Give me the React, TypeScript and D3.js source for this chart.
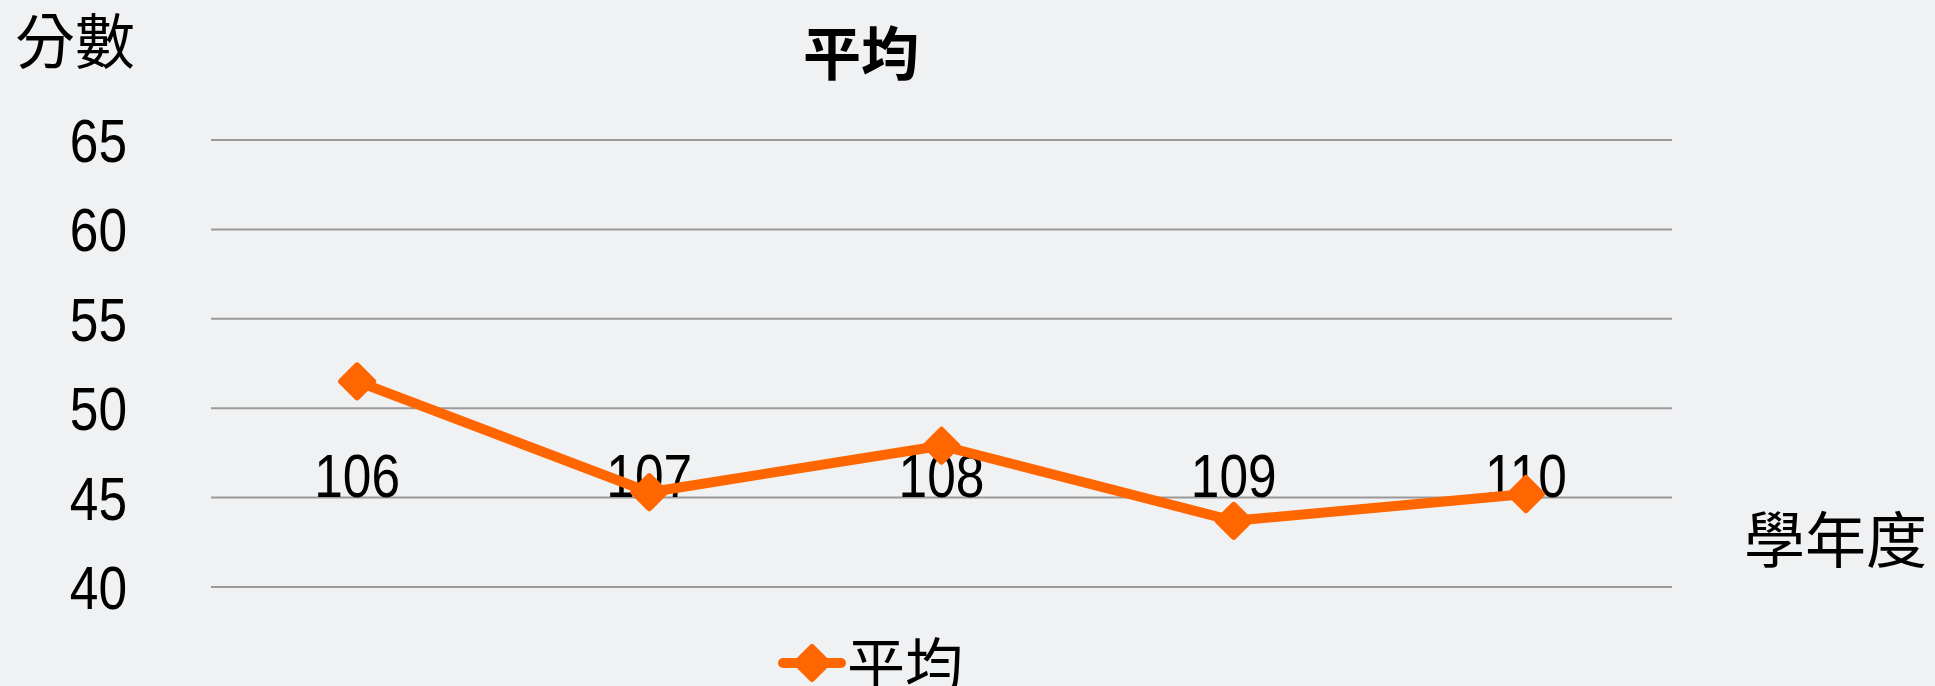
import React, { useRef, useEffect } from "react";
import * as d3 from "d3";

const years = ["106", "107", "108", "109", "110"];
const averages = [51.5, 45.3, 47.9, 43.7, 45.2];
const yTicks = [40, 45, 50, 55, 60, 65];
const seriesName = "平均";
const yTitle = "分數";
const xTitle = "學年度";

const W = 1935;
const H = 686;
const ORANGE = "#ff6600";
const NUM_FONT = "'Liberation Sans', sans-serif";
const CJK_FONT = "'Noto Sans CJK TC', 'Noto Sans CJK SC', sans-serif";
const NARROW = 0.83; // digits in the reference are condensed

const App: React.FC = () => {
  const svgRef = useRef<SVGSVGElement>(null);

  useEffect(() => {
    if (!svgRef.current) return;
    const svg = d3.select(svgRef.current);
    svg.selectAll("*").remove();

    svg.append("rect").attr("width", W).attr("height", H).attr("fill", "#f0f1f3");

    const x = d3.scaleBand<string>().domain(years).range([211, 1672]).padding(0);
    const y = d3.scaleLinear().domain([40, 65]).range([587, 140]);
    const cx = (d: string) => (x(d) ?? 0) + x.bandwidth() / 2;

    // gridlines
    svg
      .append("g")
      .selectAll("line")
      .data(yTicks)
      .join("line")
      .attr("x1", 211)
      .attr("x2", 1672)
      .attr("y1", (d) => y(d))
      .attr("y2", (d) => y(d))
      .attr("stroke", "#9a9a9a")
      .attr("stroke-width", 2);

    // y tick labels
    svg
      .append("g")
      .selectAll("text")
      .data(yTicks)
      .join("text")
      .attr("transform", (d) => `translate(127,${y(d) + 22}) scale(${NARROW},1)`)
      .attr("text-anchor", "end")
      .attr("font-family", NUM_FONT)
      .attr("font-size", 62)
      .attr("fill", "#000")
      .text((d) => d);

    // category labels (axis crosses at 45)
    svg
      .append("g")
      .selectAll("text")
      .data(years)
      .join("text")
      .attr("transform", (d) => `translate(${cx(d)},${y(45) - 1}) scale(${NARROW},1)`)
      .attr("text-anchor", "middle")
      .attr("font-family", NUM_FONT)
      .attr("font-size", 62)
      .attr("fill", "#000")
      .text((d) => d);

    const pts = years.map((d, i) => [cx(d), y(averages[i])] as [number, number]);

    svg
      .append("path")
      .datum(pts)
      .attr("fill", "none")
      .attr("stroke", ORANGE)
      .attr("stroke-width", 10)
      .attr("stroke-linejoin", "round")
      .attr("d", d3.line());

    const diamond = (r: number) => `M0,${-r}L${r},0L0,${r}L${-r},0Z`;

    svg
      .append("g")
      .selectAll("path")
      .data(pts)
      .join("path")
      .attr("transform", (d) => `translate(${d[0]},${d[1]})`)
      .attr("d", diamond(16))
      .attr("fill", ORANGE)
      .attr("stroke", ORANGE)
      .attr("stroke-width", 6)
      .attr("stroke-linejoin", "round");

    // title
    svg
      .append("text")
      .attr("x", 861)
      .attr("y", 75)
      .attr("text-anchor", "middle")
      .attr("font-family", CJK_FONT)
      .attr("font-weight", "bold")
      .attr("font-size", 58)
      .attr("fill", "#000")
      .text(seriesName);

    // axis titles
    svg
      .append("text")
      .attr("x", 15)
      .attr("y", 64)
      .attr("font-family", CJK_FONT)
      .attr("font-size", 60)
      .attr("fill", "#000")
      .text(yTitle);

    svg
      .append("text")
      .attr("x", 1744)
      .attr("y", 563)
      .attr("font-family", CJK_FONT)
      .attr("font-size", 61)
      .attr("fill", "#000")
      .text(xTitle);

    // legend
    const lg = svg.append("g").attr("transform", "translate(812,663)");
    lg.append("line")
      .attr("x1", -29)
      .attr("x2", 29)
      .attr("stroke", ORANGE)
      .attr("stroke-width", 10)
      .attr("stroke-linecap", "round");
    lg.append("path")
      .attr("d", diamond(16))
      .attr("fill", ORANGE)
      .attr("stroke", ORANGE)
      .attr("stroke-width", 6)
      .attr("stroke-linejoin", "round");
    lg.append("text")
      .attr("x", 35)
      .attr("y", 23)
      .attr("font-family", CJK_FONT)
      .attr("font-size", 58)
      .attr("fill", "#000")
      .text(seriesName);
  }, []);

  return (
    <div style={{ position: "fixed", left: 0, top: 0, width: W, height: H }}>
      <svg ref={svgRef} width={W} height={H} />
    </div>
  );
};

export default App;
